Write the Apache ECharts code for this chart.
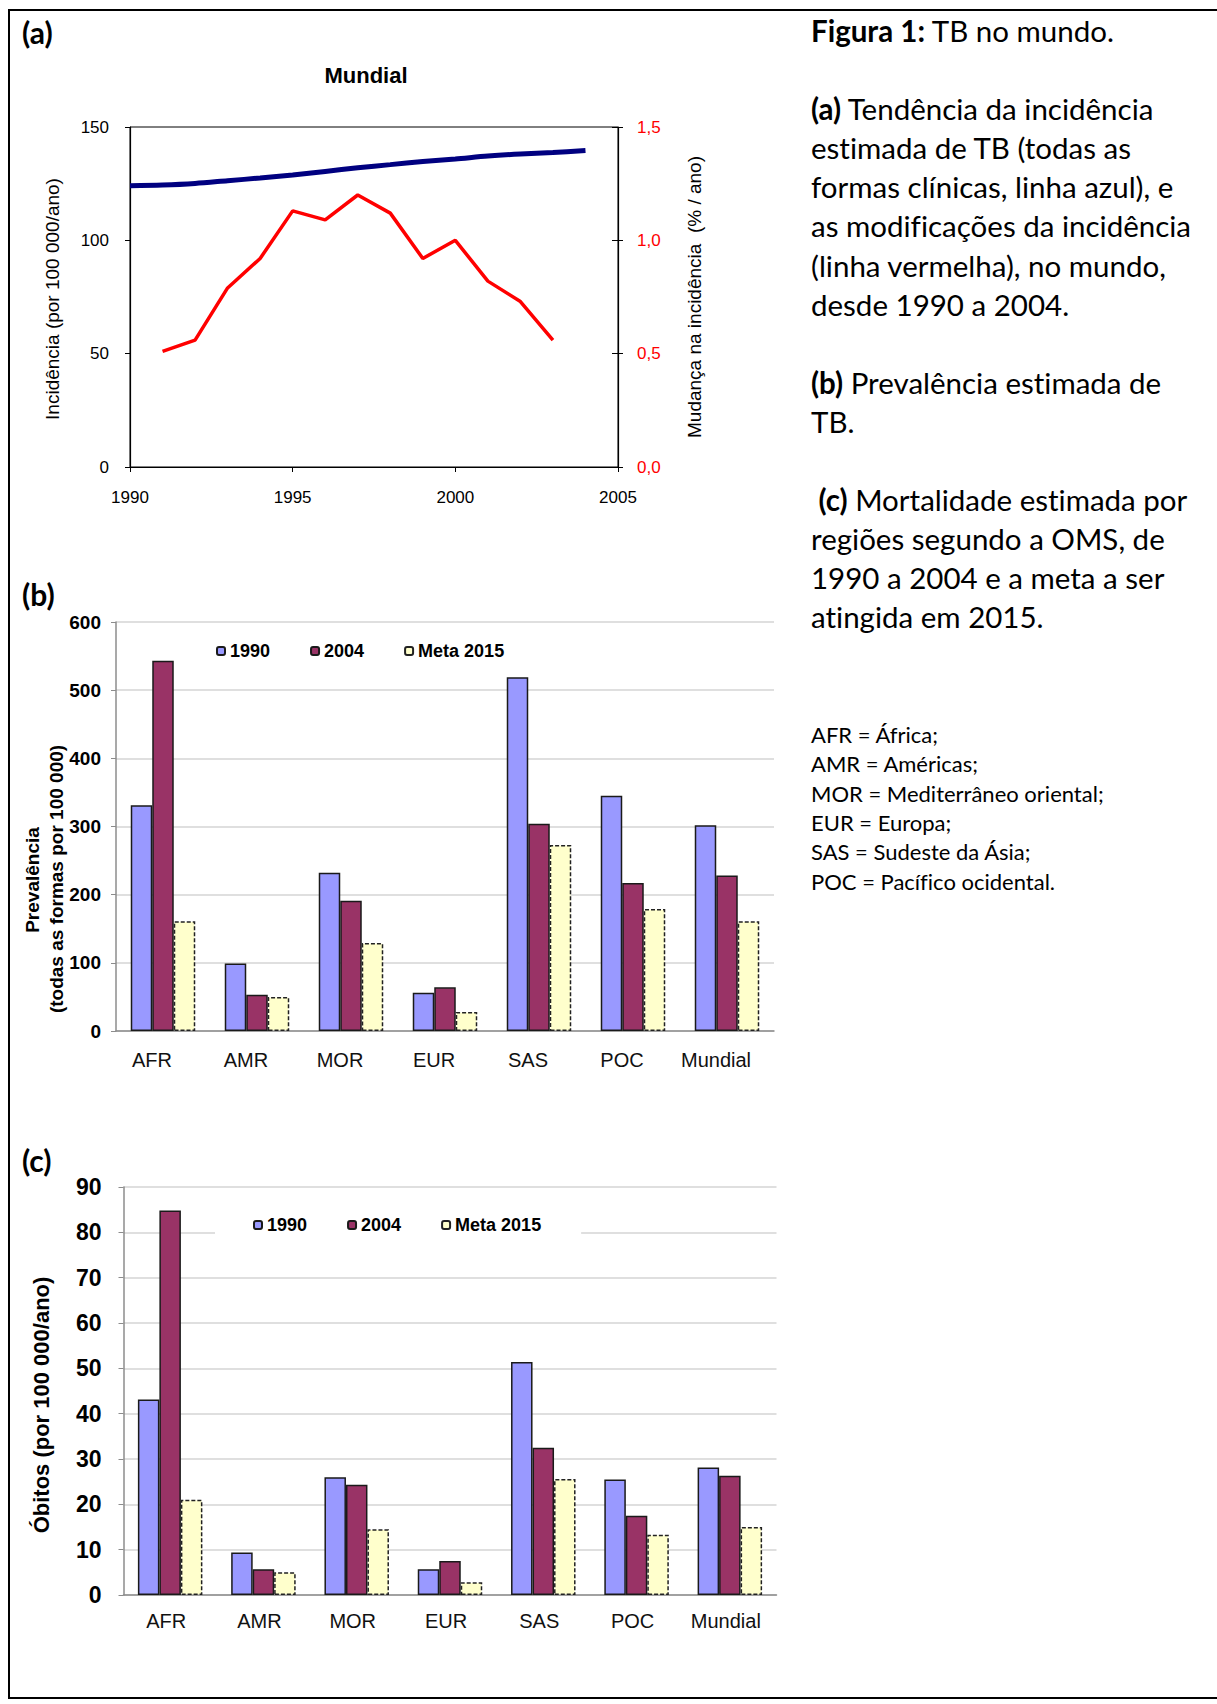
<!DOCTYPE html>
<html>
<head>
<meta charset="utf-8">
<script src="https://cdn.jsdelivr.net/npm/echarts@6/dist/echarts.min.js"></script>
<style>
  html, body { margin: 0; padding: 0; background: #fff; overflow: hidden; }
  #main { position: absolute; left: 0; top: 0; width: 1217px; height: 1704px; }
  .moldura {
    position: absolute; left: 8px; top: 9px; width: 1230px; height: 1686px;
    border: 2px solid #000; border-right: none; pointer-events: none;
  }
  .legenda {
    position: absolute; left: 811px; top: 11px;
    font-family: Lato, 'Open Sans', sans-serif; font-size: 29.5px; line-height: 39.1px; color: #000;
    font-variant-ligatures: none; white-space: nowrap;
  }
  .siglas {
    position: absolute; left: 811px; top: 720px;
    font-family: Lato, 'Open Sans', sans-serif; font-size: 22px; line-height: 29.35px; color: #000;
    font-variant-ligatures: none; white-space: nowrap;
  }
</style>
</head>
<body>
<div id="main"></div>
<div class="moldura"></div>
<div class="legenda">
  <b>Figura 1:</b> TB no mundo.<br>
  <br>
  <b>(a)</b> Tendência da incidência<br>
  estimada de TB (todas as<br>
  formas clínicas, linha azul), e<br>
  as modificações da incidência<br>
  (linha vermelha), no mundo,<br>
  desde 1990 a 2004.<br>
  <br>
  <b>(b)</b> Prevalência estimada de<br>
  TB.<br>
  <br>
  &nbsp;<b>(c)</b> Mortalidade estimada por<br>
  regiões segundo a OMS, de<br>
  1990 a 2004 e a meta a ser<br>
  atingida em 2015.
</div>
<div class="siglas">
  AFR = África;<br>
  AMR = Américas;<br>
  MOR = Mediterrâneo oriental;<br>
  EUR = Europa;<br>
  SAS = Sudeste da Ásia;<br>
  POC = Pacífico ocidental.
</div>
<script>
// (a) incidencia mundial
const anos = [1990, 1991, 1992, 1993, 1994, 1995, 1996, 1997, 1998, 1999, 2000, 2001, 2002, 2003, 2004]
const incidencia = [124.1, 124.4, 125.1, 126.3, 127.5, 128.8, 130.4, 132.0, 133.4, 134.8, 135.9, 137.2, 138.1, 138.7, 139.6]
const anosMudanca = [1991, 1992, 1993, 1994, 1995, 1996, 1997, 1998, 1999, 2000, 2001, 2002, 2003]
const mudanca = [0.51, 0.56, 0.79, 0.92, 1.13, 1.09, 1.20, 1.12, 0.92, 1.00, 0.82, 0.73, 0.56]

// (b) e (c) por regiao
const regioes = ['AFR', 'AMR', 'MOR', 'EUR', 'SAS', 'POC', 'Mundial']
const prev1990 = [331, 99, 232, 56, 519, 345, 302]
const prev2004 = [543, 53, 191, 64, 304, 217, 228]
const prevMeta = [161, 50, 129, 28, 273, 179, 161]
const obitos1990 = [43.1, 9.4, 26.0, 5.7, 51.4, 25.5, 28.1]
const obitos2004 = [84.8, 5.7, 24.3, 7.5, 32.5, 17.5, 26.3]
const obitosMeta = [21.0, 5.0, 14.5, 2.8, 25.6, 13.3, 15.0]
const nomesSeries = ['1990', '2004', 'Meta 2015']

const fonte = "'Liberation Sans', Arial, sans-serif"
const cinza = '#8c8c8c'

const chart = echarts.init(document.getElementById('main'), null, { renderer: 'svg' })

// eixo 1 -> grafico (b), eixo 2 -> grafico (c)
function barra(nome, dados, eixo, cor, tracejado) {
  return {
    name: nome,
    type: 'bar',
    xAxisIndex: eixo,
    yAxisIndex: eixo + 1,
    data: dados,
    barWidth: 21.5,
    barGap: '0%',
    itemStyle: {
      color: cor,
      borderColor: tracejado ? '#222' : '#1a1a1a',
      borderWidth: 1.5,
      borderType: tracejado ? [4, 2] : 'solid'
    }
  }
}

function eixoRotulo(texto, x, y, tamanho, negrito) {
  return {
    type: 'text',
    x: x,
    y: y,
    rotation: Math.PI / 2,
    style: {
      text: texto,
      fill: '#000',
      font: (negrito ? 'bold ' : '') + tamanho + 'px ' + fonte,
      align: 'center',
      verticalAlign: 'middle'
    }
  }
}

function painel(texto, y) {
  return {
    type: 'text', x: 22, y: y,
    style: { text: texto, fill: '#000', font: 'bold 30px Lato, sans-serif', align: 'left', verticalAlign: 'middle' }
  }
}

chart.setOption({
  animation: false,
  textStyle: { fontFamily: fonte },
  grid: [
    { left: 130, top: 127, width: 488, height: 340, show: true, borderColor: '#000', borderWidth: 1 },
    { left: 116, top: 622, width: 658, height: 409 },
    { left: 123.5, top: 1187, width: 653, height: 408 }
  ],
  xAxis: [
    {
      type: 'value', gridIndex: 0, min: 1990, max: 2005, interval: 5,
      axisLine: { lineStyle: { color: '#000', width: 1.2 } },
      axisTick: { length: 5, lineStyle: { color: '#000' } },
      splitLine: { show: false },
      axisLabel: { formatter: v => String(v), fontSize: 17, margin: 22, color: '#000' }
    },
    {
      type: 'category', gridIndex: 1, data: regioes,
      axisLine: { lineStyle: { color: cinza, width: 1.5 } },
      axisTick: { length: 5, lineStyle: { color: cinza } },
      axisLabel: { fontSize: 20, margin: 19, color: '#111', padding: [0, 22, 0, 0] }
    },
    {
      type: 'category', gridIndex: 2, data: regioes,
      axisLine: { lineStyle: { color: cinza, width: 1.5 } },
      axisTick: { length: 5, lineStyle: { color: cinza } },
      axisLabel: { fontSize: 20, margin: 16, color: '#111', padding: [0, 8, 0, 0] }
    }
  ],
  yAxis: [
    {
      type: 'value', gridIndex: 0, min: 0, max: 150, interval: 50, position: 'left',
      axisLine: { show: true, lineStyle: { color: '#000', width: 1.2 } },
      axisTick: { show: true, length: 5, lineStyle: { color: '#000' } },
      splitLine: { show: false },
      axisLabel: { fontSize: 17, margin: 21, color: '#000' }
    },
    {
      type: 'value', gridIndex: 0, min: 0, max: 1.5, interval: 0.5, position: 'right',
      axisLine: { show: true, lineStyle: { color: '#000', width: 1.2 } },
      axisTick: { show: true, inside: true, length: 6, lineStyle: { color: '#000' } },
      splitLine: { show: false },
      axisLabel: { fontSize: 17, margin: 19, color: '#ff0000', formatter: v => v.toFixed(1).replace('.', ',') }
    },
    {
      type: 'value', gridIndex: 1, min: 0, max: 600, interval: 100,
      axisLine: { show: true, lineStyle: { color: cinza, width: 1.5 } },
      axisTick: { show: true, length: 5, lineStyle: { color: cinza } },
      splitLine: { lineStyle: { color: '#d4d4d4', width: 1.5 } },
      axisLabel: { fontSize: 19, fontWeight: 'bold', margin: 15, color: '#000' }
    },
    {
      type: 'value', gridIndex: 2, min: 0, max: 90, interval: 10,
      axisLine: { show: true, lineStyle: { color: cinza, width: 1.5 } },
      axisTick: { show: true, length: 5, lineStyle: { color: cinza } },
      splitLine: { lineStyle: { color: '#d4d4d4', width: 1.5 } },
      axisLabel: { fontSize: 23, fontWeight: 'bold', margin: 22, color: '#000' }
    },
    {
      // marcas para fora do eixo da direita em (a)
      type: 'value', gridIndex: 0, min: 0, max: 1.5, interval: 0.5, position: 'right',
      axisLine: { show: false },
      axisTick: { show: true, length: 5, lineStyle: { color: '#000' } },
      axisLabel: { show: false },
      splitLine: { show: false }
    }
  ],
  legend: [
    {
      data: nomesSeries, left: 206, top: 634, padding: [8, 10],
      itemWidth: 8, itemHeight: 8, itemGap: 40,
      textStyle: { fontSize: 18, fontWeight: 'bold', color: '#000', fontFamily: fonte }
    },
    {
      data: nomesSeries, left: 215, top: 1206, padding: [10, 40, 10, 38],
      backgroundColor: '#fff',
      itemWidth: 8, itemHeight: 8, itemGap: 40,
      textStyle: { fontSize: 18, fontWeight: 'bold', color: '#000', fontFamily: fonte }
    }
  ],
  graphic: [
    painel('(a)', 32),
    painel('(b)', 594),
    painel('(c)', 1160),
    {
      type: 'text', x: 366, y: 75,
      style: { text: 'Mundial', fill: '#000', font: 'bold 22px ' + fonte, align: 'center', verticalAlign: 'middle' }
    },
    eixoRotulo('Incidência (por 100 000/ano)', 52.5, 299, 19, false),
    eixoRotulo('Mudança na incidência\u00a0\u00a0(% / ano)', 694, 297, 19, false),
    eixoRotulo('Prevalência', 32.5, 880, 19, true),
    eixoRotulo('(todas as formas por 100 000)', 56.5, 879, 19, true),
    eixoRotulo('Óbitos (por 100 000/ano)', 41, 1405, 22, true)
  ],
  series: [
    {
      name: 'Incidência',
      type: 'line',
      xAxisIndex: 0, yAxisIndex: 0,
      data: anos.map((a, i) => [a, incidencia[i]]),
      smooth: 0.3,
      showSymbol: false,
      lineStyle: { color: '#000080', width: 5 }
    },
    {
      name: 'Mudança',
      type: 'line',
      xAxisIndex: 0, yAxisIndex: 1,
      data: anosMudanca.map((a, i) => [a, mudanca[i]]),
      showSymbol: false,
      lineStyle: { color: '#ff0000', width: 3.5 }
    },
    barra('1990', prev1990, 1, '#9999ff', false),
    barra('2004', prev2004, 1, '#993366', false),
    barra('Meta 2015', prevMeta, 1, '#ffffcc', true),
    barra('1990', obitos1990, 2, '#9999ff', false),
    barra('2004', obitos2004, 2, '#993366', false),
    barra('Meta 2015', obitosMeta, 2, '#ffffcc', true)
  ]
})
</script>
</body>
</html>
